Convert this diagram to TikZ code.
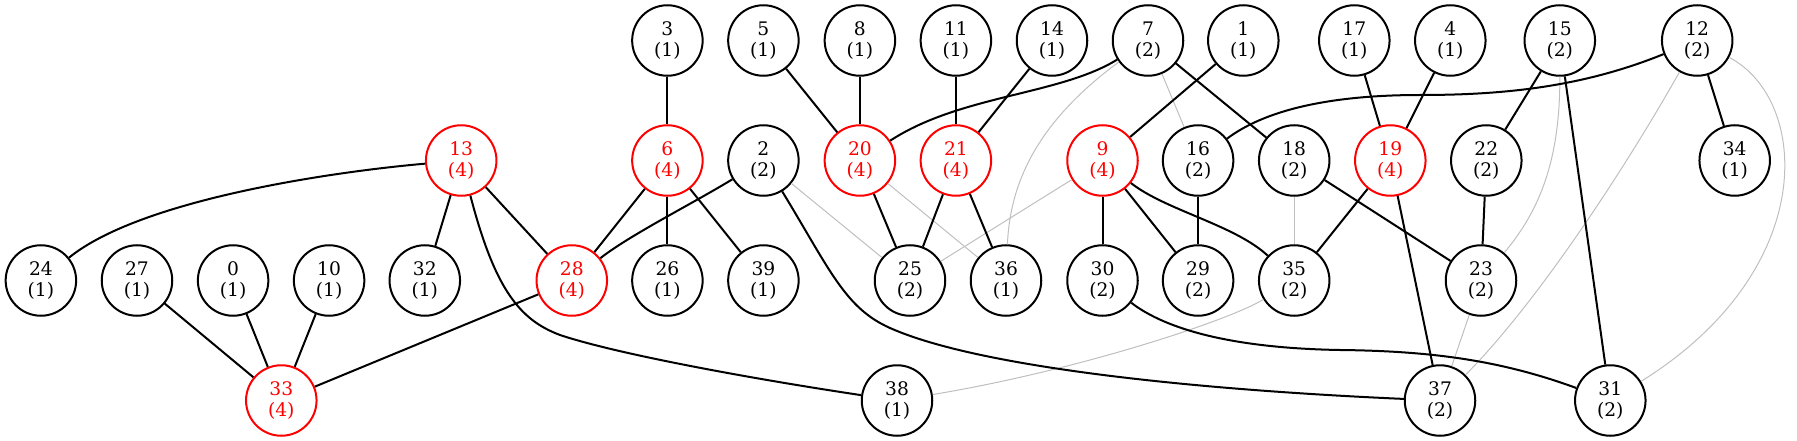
\documentclass[tikz,border=0pt]{standalone}
\usepackage{fontspec}
\setmainfont{DejaVu Serif}
\begin{document}
\begin{tikzpicture}[x=1pt,y=-1pt,
  nd/.style={circle, draw=black, line width=2pt, minimum size=70.5pt, inner sep=0pt, align=center, font=\fontsize{18.67}{21}\selectfont},
  rd/.style={nd, draw=red, text=red},
  be/.style={line width=2pt, draw=black},
  ge/.style={line width=1pt, draw=black!25}]
\useasboundingbox (0,0) rectangle (1797,441);
% row 1
\node[nd] (n3) at (667.4,40.5) {3\\(1)};
\node[nd] (n5) at (763.4,40.5) {5\\(1)};
\node[nd] (n8) at (859.9,40.5) {8\\(1)};
\node[nd] (n11) at (955.9,40.5) {11\\(1)};
\node[nd] (n14) at (1052,40.5) {14\\(1)};
\node[nd] (n7) at (1148,40.5) {7\\(2)};
\node[nd] (n1) at (1243.3,40.5) {1\\(1)};
\node[nd] (n17) at (1354.3,40.5) {17\\(1)};
\node[nd] (n4) at (1450.3,40.5) {4\\(1)};
\node[nd] (n15) at (1559.8,40.5) {15\\(2)};
\node[nd] (n12) at (1697.2,40.5) {12\\(2)};
% row 2
\node[rd] (n13) at (461.2,160.5) {13\\(4)};
\node[rd] (n6) at (667.4,160.5) {6\\(4)};
\node[nd] (n2) at (763.4,160.5) {2\\(2)};
\node[rd] (n20) at (859.9,160.5) {20\\(4)};
\node[rd] (n21) at (955.9,160.5) {21\\(4)};
\node[rd] (n9) at (1102.5,160.5) {9\\(4)};
\node[nd] (n16) at (1198.1,160.5) {16\\(2)};
\node[nd] (n18) at (1294.2,160.5) {18\\(2)};
\node[rd] (n19) at (1390.3,160.5) {19\\(4)};
\node[nd] (n22) at (1486.3,160.5) {22\\(2)};
\node[nd] (n34) at (1734.7,160.5) {34\\(1)};
% row 3
\node[nd] (n24) at (40.9,280.5) {24\\(1)};
\node[nd] (n27) at (137,280.5) {27\\(1)};
\node[nd] (n0) at (233.1,280.5) {0\\(1)};
\node[nd] (n10) at (329.1,280.5) {10\\(1)};
\node[nd] (n32) at (424.8,280.5) {32\\(1)};
\node[rd] (n28) at (571.8,280.5) {28\\(4)};
\node[nd] (n26) at (667.4,280.5) {26\\(1)};
\node[nd] (n39) at (763.4,280.5) {39\\(1)};
\node[nd] (n25) at (910,280.5) {25\\(2)};
\node[nd] (n36) at (1006,280.5) {36\\(1)};
\node[nd] (n30) at (1102.5,280.5) {30\\(2)};
\node[nd] (n29) at (1198.1,280.5) {29\\(2)};
\node[nd] (n35) at (1294.2,280.5) {35\\(2)};
\node[nd] (n23) at (1481,280.5) {23\\(2)};
% row 4
\node[rd] (n33) at (281.3,400.5) {33\\(4)};
\node[nd] (n38) at (897,400.5) {38\\(1)};
\node[nd] (n37) at (1440,400.5) {37\\(2)};
\node[nd] (n31) at (1610.3,400.5) {31\\(2)};
% gray edges
\draw[ge] (n2) -- (n25);
\draw[ge] (n20) -- (n36);
\draw[ge] (n9) -- (n25);
\draw[ge] (n7) .. controls (1040,120) and (1010,180) .. (n36);
\draw[ge] (n7) -- (n16);
\draw[ge] (n18) -- (n35);
\draw[ge] (n35) .. controls (1230,320) and (1080,370) .. (n38);
\draw[ge] (n15) .. controls (1560,160) and (1540,210) .. (n23);
\draw[ge] (n12) .. controls (1630,160) and (1540,300) .. (n37);
\draw[ge] (n12) .. controls (1810,100) and (1820,270) .. (n31);
\draw[ge] (n23) -- (n37);
% black edges
\draw[be] (n13) .. controls (330,172) and (140,200) .. (n24);
\draw[be] (n13) -- (n32);
\draw[be] (n13) -- (n28);
\draw[be] (n13) .. controls (495,290) and (520,320) .. (560,335) .. controls (620,355) and (760,380) .. (n38);
\draw[be] (n27) -- (n33);
\draw[be] (n0) -- (n33);
\draw[be] (n10) -- (n33);
\draw[be] (n28) -- (n33);
\draw[be] (n6) -- (n28);
\draw[be] (n2) .. controls (690,205) and (630,235) .. (n28);
\draw[be] (n3) -- (n6);
\draw[be] (n6) -- (n26);
\draw[be] (n6) -- (n39);
\draw[be] (n5) -- (n20);
\draw[be] (n8) -- (n20);
\draw[be] (n7) .. controls (1060,95) and (960,95) .. (n20);
\draw[be] (n11) -- (n21);
\draw[be] (n14) -- (n21);
\draw[be] (n20) -- (n25);
\draw[be] (n21) -- (n25);
\draw[be] (n21) -- (n36);
\draw[be] (n2) .. controls (830,270) and (845,308) .. (890,328) .. controls (980,368) and (1200,390) .. (n37);
\draw[be] (n1) -- (n9);
\draw[be] (n7) -- (n18);
\draw[be] (n9) -- (n30);
\draw[be] (n9) -- (n29);
\draw[be] (n9) .. controls (1165,210) and (1235,225) .. (n35);
\draw[be] (n16) -- (n29);
\draw[be] (n12) .. controls (1580,88) and (1500,95) .. (1420,95) .. controls (1330,95) and (1265,110) .. (n16);
\draw[be] (n17) -- (n19);
\draw[be] (n4) -- (n19);
\draw[be] (n19) -- (n35);
\draw[be] (n19) -- (n37);
\draw[be] (n18) -- (n23);
\draw[be] (n15) -- (n22);
\draw[be] (n22) -- (n23);
\draw[be] (n15) -- (n31);
\draw[be] (n12) -- (n34);
\draw[be] (n30) .. controls (1160,325) and (1220,348) .. (1340,350) .. controls (1430,351) and (1500,360) .. (n31);
\end{tikzpicture}
\end{document}
